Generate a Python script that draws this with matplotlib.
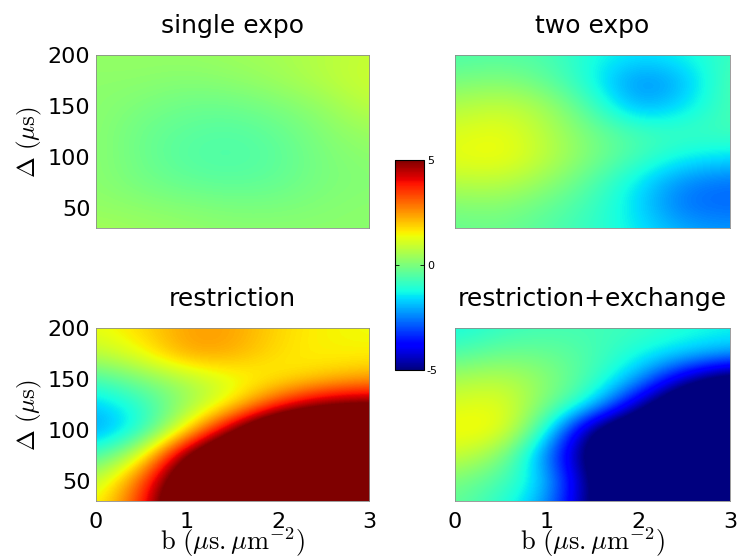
import numpy as np
import matplotlib.pyplot as plt

# grid of the maps (rows: Delta from top to bottom, columns: b)
b_values = [0.0, 0.5, 1.0, 1.5, 2.0, 2.5, 3.0]
delta_values = [200, 175, 150, 125, 100, 75, 50, 25]

single_expo = [
    [0.3, 0.3, 0.3, 0.4, 0.5, 0.7, 0.9],
    [0.2, 0.2, 0.1, 0.2, 0.4, 0.7, 1.0],
    [0.2, 0.0, -0.2, -0.2, 0.0, 0.3, 0.8],
    [0.2, -0.2, -0.4, -0.5, -0.3, 0.1, 0.4],
    [0.2, -0.2, -0.5, -0.6, -0.4, 0.0, 0.2],
    [0.2, -0.1, -0.3, -0.4, -0.3, 0.0, 0.1],
    [0.3, 0.2, 0.1, 0.0, 0.0, 0.1, 0.2],
    [0.5, 0.4, 0.3, 0.2, 0.2, 0.2, 0.2],
]

two_expo = [
    [-0.6, -0.5, -0.6, -1.2, -1.5, -1.3, -0.8],
    [-0.1, 0.1, -0.3, -1.3, -2.5, -2.0, -0.5],
    [0.6, 0.9, 0.5, -0.7, -2.2, -1.6, -0.6],
    [1.1, 1.4, 0.7, -0.1, -0.7, -0.8, -0.7],
    [1.3, 1.5, 0.8, 0.0, -0.7, -1.3, -1.5],
    [0.7, 0.8, 0.3, -0.5, -1.5, -2.5, -2.7],
    [0.0, 0.1, -0.3, -0.8, -1.6, -2.7, -2.7],
    [-0.3, -0.2, -0.5, -0.9, -1.4, -2.0, -2.2],
]

restriction = [
    [1.3, 1.8, 2.4, 2.4, 1.8, 1.5, 1.4],
    [0.8, 1.4, 2.5, 2.3, 1.7, 1.5, 1.5],
    [-0.7, 0.0, 0.6, 1.3, 1.5, 1.9, 2.3],
    [-1.8, -1.0, 0.3, 1.4, 3.5, 5.0, 5.2],
    [-2.3, -1.3, 1.5, 5.0, 8.0, 8.0, 8.0],
    [-0.8, 1.0, 5.5, 8.0, 8.0, 8.0, 8.0],
    [0.7, 3.0, 7.0, 8.0, 8.0, 8.0, 8.0],
    [1.3, 3.5, 7.5, 8.0, 8.0, 8.0, 8.0],
]

restriction_exchange = [
    [-1.3, -0.9, -0.7, -0.7, -0.8, -1.1, -1.3],
    [-0.6, -0.2, -0.2, -0.6, -1.2, -1.6, -2.0],
    [0.5, 0.8, 0.2, -0.7, -2.0, -4.5, -6.0],
    [1.1, 1.4, 0.0, -1.3, -4.5, -7.0, -7.0],
    [1.5, 1.6, -1.0, -5.5, -7.0, -7.0, -7.0],
    [1.0, 0.3, -2.5, -6.0, -7.0, -7.0, -7.0],
    [0.0, -0.6, -1.6, -5.5, -7.0, -7.0, -7.0],
    [-0.3, -1.0, -2.2, -5.5, -7.0, -7.0, -7.0],
]

titles = ["single expo", "two expo", "restriction", "restriction+exchange"]
maps = [single_expo, two_expo, restriction, restriction_exchange]

plt.rcParams["font.family"] = "DejaVu Sans"
plt.rcParams["mathtext.fontset"] = "cm"
plt.rcParams["axes.unicode_minus"] = False

fig = plt.figure(figsize=(7.47, 5.58), dpi=100)

# axes positions (figure fraction)
positions = [
    [0.1285, 0.5914, 0.3655, 0.310],
    [0.609, 0.5914, 0.368, 0.310],
    [0.1285, 0.102, 0.3655, 0.310],
    [0.609, 0.102, 0.368, 0.310],
]

db = b_values[1] - b_values[0]
dd = delta_values[0] - delta_values[1]
extent = [b_values[0] - db / 2, b_values[-1] + db / 2,
          delta_values[-1] - dd / 2, delta_values[0] + dd / 2]

im = None
for i, (pos, data, title) in enumerate(zip(positions, maps, titles)):
    ax = fig.add_axes(pos)
    im = ax.imshow(np.array(data), cmap="jet", vmin=-5, vmax=5,
                   extent=extent, origin="upper", aspect="auto",
                   interpolation="bicubic", interpolation_stage="data")
    ax.set_xlim(0, 3)
    ax.set_ylim(30, 200)
    ax.set_title(title, fontsize=18, pad=16)
    ax.set_xticks([0, 1, 2, 3])
    ax.set_yticks([50, 100, 150, 200])
    ax.tick_params(length=0, labelsize=16)
    ax.tick_params(axis="x", pad=8)
    ax.tick_params(axis="y", pad=4)
    for sp in ax.spines.values():
        sp.set_linewidth(0.6)
        sp.set_color("0.55")
    if i < 2:
        ax.set_xticklabels([])
    else:
        ax.set_xlabel(r"$\mathrm{b}\ (\mu\mathrm{s.}\mu\mathrm{m}^{-2})$",
                      fontsize=19, labelpad=-5)
    if i % 2 == 1:
        ax.set_yticklabels([])
    else:
        ax.set_ylabel(r"$\Delta\ (\mu\mathrm{s})$", fontsize=18, labelpad=3)

cax = fig.add_axes([0.5288, 0.337, 0.0388, 0.376])
cb = fig.colorbar(im, cax=cax, ticks=[-5, 0, 5])
cb.ax.tick_params(labelsize=8, direction="in", length=3, width=0.6,
                  left=True, right=True, pad=2)
cb.outline.set_linewidth(0.8)

fig.savefig("out.png", dpi=100)
